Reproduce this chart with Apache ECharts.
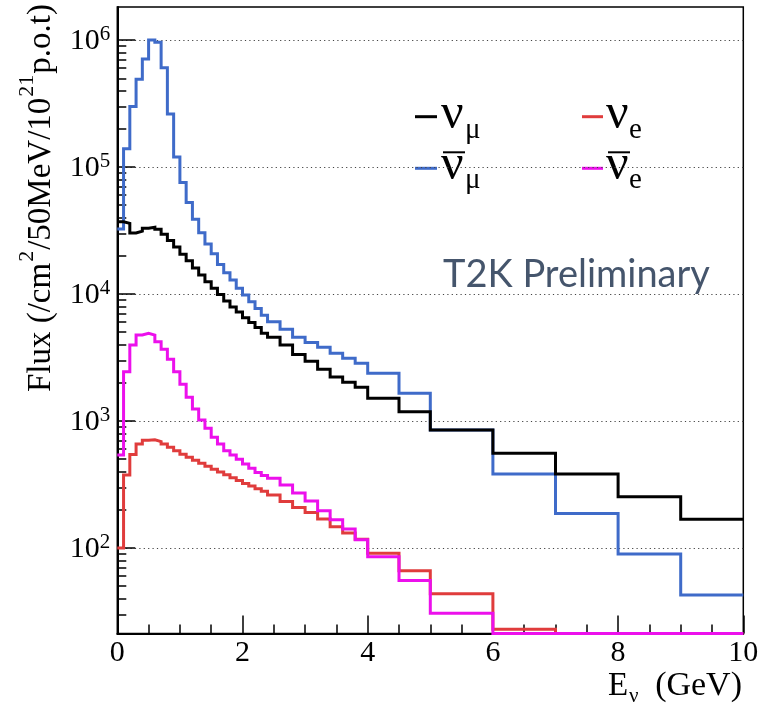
<!DOCTYPE html>
<html><head><meta charset="utf-8">
<script src="https://cdn.jsdelivr.net/npm/echarts@6/dist/echarts.min.js"></script>
<style>html,body{margin:0;padding:0;background:#fff}#c{width:768px;height:707px}</style>
</head><body><div id="c"></div>
<script>
// ---- data ----
const energyEdges = [0,0.1,0.2,0.3,0.4,0.5,0.6,0.7,0.8,0.9,1.0,1.1,1.2,1.3,1.4,1.5,1.6,1.7,1.8,1.9,2.0,2.1,2.2,2.3,2.4,2.6,2.8,3.0,3.2,3.4,3.6,3.8,4.0,4.5,5.0,6,7,8,9,10];
// nu_mu (black)
const numuFlux = [37000,36000,30200,31300,33000,33600,32400,29500,26400,23400,20600,18300,16000,14100,12500,11100,9900,8800,7900,7200,6500,5950,5450,4900,4560,3960,3340,2960,2560,2220,2020,1840,1510,1180,849,557,383,253,168];
// anti nu_mu (blue)
const numubarFlux = [32500,139000,299000,491000,708000,1000000,960000,605000,261000,120000,75500,52500,38800,30400,24800,20700,17100,14700,12900,11100,9800,8700,7700,6800,6050,5270,4560,4140,3800,3410,3120,2850,2380,1650,849,383,187,89.7,42.7];
// nu_e (red); null = below the axis range
const nueFlux = [100,375,545,659,705,710,688,659,621,583,548,518,491,465,440,417,397,377,357,340,322,308,292,279,261,232,208,190,169,147,131,117,90.8,66.2,43.5,22.9,null,null,null];
// anti nu_e (magenta)
const nuebarFlux = [540,2440,3960,4750,4900,4750,4210,3670,3060,2440,1950,1540,1240,1020,877,745,659,583,540,499,458,424,392,372,354,313,271,234,196,167,141,116,85.4,55.4,30.6,null,null,null,null];

const xTickValues = [0,2,4,6,8,10];
const xMinorTicks = [0.5,1,1.5,2.5,3,3.5,4.5,5,5.5,6.5,7,7.5,8.5,9,9.5];
const yDecades = [1e2,1e3,1e4,1e5,1e6];
const yMinorTicks = [30,40,50,60,70,80,90,
  200,300,400,500,600,700,800,900,
  2000,3000,4000,5000,6000,7000,8000,9000,
  2e4,3e4,4e4,5e4,6e4,7e4,8e4,9e4,
  2e5,3e5,4e5,5e5,6e5,7e5,8e5,9e5];

const Y_MIN = 21.2, Y_MAX = 1.82e6;
const SERIF = '"Liberation Serif","Times New Roman",serif';

function histData(vals){
  const d = vals.map((v,i)=>[energyEdges[i], v==null ? Y_MIN : v]);
  d.push([energyEdges[energyEdges.length-1], d[d.length-1][1]]);
  return d;
}
function hist(name, vals, color, z){
  return {name, type:'line', step:'end', data:histData(vals), symbol:'none', showSymbol:false,
    clip:false, silent:true, z, xAxisIndex:0, yAxisIndex:0,
    lineStyle:{color, width:3, cap:'butt', join:'miter'}};
}

const chart = echarts.init(document.getElementById('c'), null, {renderer:'canvas'});
const tickStyle = {color:'#000', width:1.5};
const option = {
  animation:false,
  backgroundColor:'#fff',
  grid:{left:117.3, right:24.7, top:7, bottom:73.5, show:true, borderColor:'#000', borderWidth:1.5, backgroundColor:'transparent'},
  xAxis:[
    {type:'value', min:0, max:10, interval:2, position:'bottom',
      axisLine:{show:true, onZero:false, lineStyle:{color:'#000', width:2}},
      axisTick:{show:true, inside:true, length:18, lineStyle:tickStyle, customValues:xTickValues},
      axisLabel:{customValues:xTickValues, margin:5, color:'#000', fontFamily:SERIF, fontSize:30},
      splitLine:{show:false}},
    {type:'value', min:0, max:10, position:'bottom', offset:0,
      axisLine:{show:false},
      axisTick:{show:true, inside:true, length:9, lineStyle:tickStyle, customValues:xMinorTicks},
      axisLabel:{show:false}, splitLine:{show:false}}
  ],
  yAxis:[
    {type:'log', logBase:10, min:Y_MIN, max:Y_MAX, position:'left',
      axisLine:{show:true, onZero:false, lineStyle:{color:'#000', width:2}},
      axisTick:{show:true, inside:true, length:18, lineStyle:tickStyle, customValues:yDecades},
      axisLabel:{customValues:yDecades, margin:7, color:'#000',
        formatter:v=>'{b|10}{s|'+Math.round(Math.log10(v))+'}',
        rich:{b:{fontFamily:SERIF, fontSize:30, color:'#000', verticalAlign:'bottom', lineHeight:32},
              s:{fontFamily:SERIF, fontSize:21, color:'#000', verticalAlign:'top', lineHeight:32}}},
      splitLine:{show:true, lineStyle:{type:[1.2,3.2], color:'#444', width:1.2}}},
    {type:'log', logBase:10, min:Y_MIN, max:Y_MAX, position:'left', offset:0,
      axisLine:{show:false},
      axisTick:{show:true, inside:true, length:9, lineStyle:tickStyle, customValues:yMinorTicks},
      axisLabel:{show:false}, splitLine:{show:false}}
  ],
  series:[
    hist('anti-numu', numubarFlux, '#3f6bc9', 3),
    hist('nue', nueFlux, '#e03c3c', 4),
    hist('anti-nue', nuebarFlux, '#ec10ec', 5),
    hist('numu', numuFlux, '#000000', 6)
  ],
  graphic:[
    // y-axis title
    {type:'text', x:37, y:4, rotation:Math.PI/2, silent:true,
      style:{text:'{m|Flux (/cm}{p|2}{m|/50MeV/10}{p|21}{m|p.o.t)}', align:'right', verticalAlign:'middle',
        rich:{m:{fontFamily:SERIF, fontSize:33, fill:'#000', verticalAlign:'bottom', lineHeight:42},
              p:{fontFamily:SERIF, fontSize:22, fill:'#000', verticalAlign:'top', lineHeight:42, padding:[0,1,0,1]}}}},
    // x-axis title
    {type:'text', x:608, y:686, silent:true, style:{text:'E', fontFamily:SERIF, fontSize:33, fill:'#000', align:'left', verticalAlign:'middle'}},
    {type:'text', x:629, y:696, silent:true, style:{text:'ν', fontFamily:SERIF, fontSize:21, fill:'#000', align:'left', verticalAlign:'middle'}},
    {type:'text', x:742, y:686, silent:true, style:{text:'(GeV)', fontFamily:SERIF, fontSize:34, fill:'#000', align:'right', verticalAlign:'middle'}},
    // legend markers
    {type:'line', silent:true, shape:{x1:415, y1:116.7, x2:437, y2:116.7}, style:{stroke:'#000', lineWidth:3}},
    {type:'line', silent:true, shape:{x1:415, y1:168.3, x2:437, y2:168.3}, style:{stroke:'#3f6bc9', lineWidth:3}},
    {type:'line', silent:true, shape:{x1:582, y1:116.7, x2:603, y2:116.7}, style:{stroke:'#e03c3c', lineWidth:3}},
    {type:'line', silent:true, shape:{x1:582, y1:168.3, x2:603, y2:168.3}, style:{stroke:'#ec10ec', lineWidth:3}},
    // legend labels
    {type:'text', x:441, y:115, silent:true, style:{text:'ν', fontFamily:SERIF, fontSize:50, fill:'#000', align:'left', verticalAlign:'middle'}},
    {type:'text', x:465, y:130, silent:true, style:{text:'μ', fontFamily:SERIF, fontSize:29, fill:'#000', align:'left', verticalAlign:'middle'}},
    {type:'text', x:441, y:165.5, silent:true, style:{text:'ν', fontFamily:SERIF, fontSize:50, fill:'#000', align:'left', verticalAlign:'middle'}},
    {type:'text', x:465, y:180, silent:true, style:{text:'μ', fontFamily:SERIF, fontSize:29, fill:'#000', align:'left', verticalAlign:'middle'}},
    {type:'line', silent:true, shape:{x1:443, y1:152.3, x2:465, y2:152.3}, style:{stroke:'#000', lineWidth:2}},
    {type:'text', x:606, y:115, silent:true, style:{text:'ν', fontFamily:SERIF, fontSize:50, fill:'#000', align:'left', verticalAlign:'middle'}},
    {type:'text', x:629, y:130, silent:true, style:{text:'e', fontFamily:SERIF, fontSize:29, fill:'#000', align:'left', verticalAlign:'middle'}},
    {type:'text', x:606, y:165.5, silent:true, style:{text:'ν', fontFamily:SERIF, fontSize:50, fill:'#000', align:'left', verticalAlign:'middle'}},
    {type:'text', x:629, y:180, silent:true, style:{text:'e', fontFamily:SERIF, fontSize:29, fill:'#000', align:'left', verticalAlign:'middle'}},
    {type:'line', silent:true, shape:{x1:608, y1:152.3, x2:630, y2:152.3}, style:{stroke:'#000', lineWidth:2}},
    // watermark
    {type:'text', x:443, y:275, silent:true, style:{text:'T2K Preliminary', fontFamily:'Lato', fontSize:38, fill:'#45556c', align:'left', verticalAlign:'middle'}}
  ]
};
chart.setOption(option);
</script></body></html>
